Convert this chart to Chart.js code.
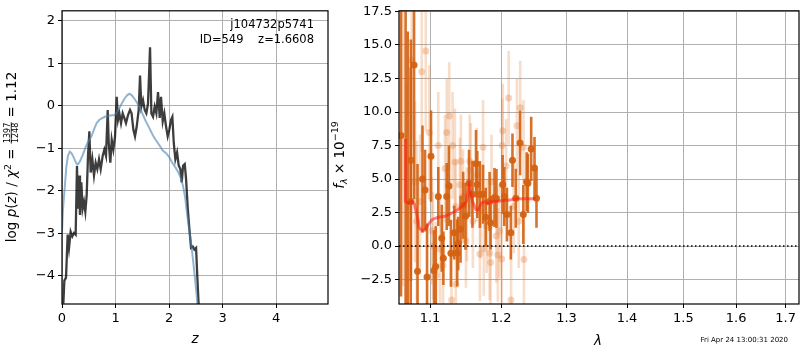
<!DOCTYPE html>
<html>
<head>
<meta charset="utf-8">
<script src="https://cdn.jsdelivr.net/npm/chart.js@4"></script>
<style>
body { margin: 0; background: #fff; }
#wrap { position: relative; width: 800px; height: 350px; overflow: hidden; }
#left { position: absolute; left: 0; top: 0; }
#right { position: absolute; left: 330px; top: 0; }
</style>
</head>
<body>
<div id="wrap">
<canvas id="left" width="330" height="350"></canvas>
<canvas id="right" width="470" height="350"></canvas>
</div>
<script>
// ---- left panel: log p(z) ----
var zBlue = [0,0.02,0.05,0.08,0.11,0.145,0.18,0.22,0.27,0.30,0.33,0.38,0.45,0.50,0.55,0.60,0.65,0.70,0.75,0.80,0.90,0.98,1.03,1.07,1.12,1.17,1.22,1.26,1.30,1.35,1.41,1.46,1.50,1.56,1.63,1.70,1.75,1.82,1.88,1.95,2.00,2.06,2.12,2.18,2.22,2.26,2.30,2.34,2.38,2.42,2.47,2.52,2.56];
var logpBlue = [-2.95,-2.4,-1.95,-1.45,-1.18,-1.08,-1.12,-1.22,-1.36,-1.37,-1.32,-1.18,-0.95,-0.82,-0.72,-0.55,-0.40,-0.33,-0.29,-0.26,-0.23,-0.22,-0.15,-0.06,0.06,0.17,0.25,0.28,0.25,0.17,0.05,-0.06,-0.18,-0.35,-0.52,-0.70,-0.80,-0.93,-1.05,-1.12,-1.20,-1.34,-1.45,-1.58,-1.70,-1.88,-2.15,-2.57,-2.95,-3.30,-3.88,-4.50,-5.20];

var zDark = [0.025,0.044,0.075,0.106,0.131,0.162,0.193,0.224,0.255,0.28,0.299,0.318,0.336,0.361,0.386,0.411,0.436,0.461,0.486,0.511,0.536,0.567,0.598,0.629,0.66,0.692,0.723,0.76,0.791,0.822,0.854,0.873,0.903,0.929,0.959,0.991,1.022,1.047,1.072,1.103,1.134,1.165,1.196,1.234,1.271,1.30,1.333,1.364,1.396,1.433,1.458,1.483,1.514,1.545,1.576,1.607,1.645,1.67,1.701,1.732,1.763,1.794,1.826,1.85,1.882,1.912,1.944,1.975,2.006,2.037,2.062,2.088,2.118,2.15,2.181,2.211,2.237,2.262,2.293,2.318,2.35,2.379,2.411,2.443,2.473,2.505,2.529,2.555,2.6];
var logpDark = [-4.65,-4.11,-4.04,-3.03,-3.34,-2.96,-3.07,-2.99,-3.03,-1.41,-2.42,-1.64,-2.57,-1.80,-2.42,-2.26,-2.49,-2.11,-1.18,-0.60,-1.57,-1.26,-1.64,-1.34,-1.49,-1.26,-1.49,-1.18,-1.03,-1.18,-0.10,-0.87,-1.34,-0.80,-1.03,-0.72,0.21,-0.33,-0.18,-0.41,-0.18,-0.29,-0.41,-0.22,-0.10,-0.18,-0.56,-0.72,-0.49,-0.10,0.71,-0.02,0.13,-0.10,-0.18,0.05,1.37,-0.18,-0.26,-0.02,-0.18,0.32,-0.29,0.21,-0.37,-0.18,-0.49,-0.72,-0.56,-0.33,-0.26,-0.87,-1.26,-1.10,-1.41,-1.49,-1.80,-1.41,-1.37,-1.72,-2.42,-2.88,-3.34,-3.31,-3.38,-3.34,-4.04,-4.73,-5.6];

var zTicks = [0, 1, 2, 3, 4];
var logpTicks = [-4, -3, -2, -1, 0, 1, 2];

// ---- right panel: spectrum ----
var lamDark = [1.0616,1.0676,1.0704,1.0743,1.0746,1.0787,1.0833,1.0899,1.0933,1.096,1.1013,1.1054,1.1077,1.1112,1.1159,1.1181,1.1227,1.1258,1.1285,1.1331,1.1372,1.1386,1.1419,1.1455,1.1488,1.1538,1.1586,1.1637,1.1655,1.1692,1.1738,1.1776,1.1832,1.1846,1.1903,1.1932,1.2022,1.2047,1.2086,1.2144,1.2168,1.2218,1.2281,1.2331,1.2381,1.2400,1.2450,1.2501,1.2531];
var fluxDark = [8.24,20.0,-6.0,3.33,6.40,13.5,-1.87,5.0,4.19,-2.31,6.71,-1.82,-1.52,3.70,0.59,-0.91,3.70,4.49,-0.54,1.0,-0.51,0.19,1.25,3.04,2.23,4.68,3.87,6.15,4.60,3.85,3.87,2.15,3.33,1.74,3.63,3.55,4.60,3.70,2.35,1.0,6.40,3.57,7.69,2.35,4.80,4.68,7.25,5.83,3.57];
var errDark = [12,25,22,10,9,10,8,4,3,4,3.4,3,3,2.2,2.5,2,2.5,3,2.5,2,2.5,2,2.5,2.5,2.5,2.5,2.5,2.5,2.5,2.5,2.2,2.2,2.2,2,2.2,2.2,2.2,2.2,2,2,2,2.2,2.4,2.2,2.2,2.2,2.4,2.3,2.2];

var lamLight = [1.0640,1.0690,1.0756,1.0800,1.0822,1.0866,1.0889,1.0943,1.0991,1.1027,1.1040,1.1081,1.1112,1.1135,1.1176,1.1203,1.1227,1.1262,1.1294,1.1308,1.1340,1.1350,1.1353,1.1409,1.1423,1.1452,1.1494,1.1507,1.1548,1.1563,1.1592,1.1647,1.1692,1.1700,1.1738,1.1748,1.1790,1.1832,1.1846,1.1860,1.1929,1.1952,1.1976,1.2010,1.2015,1.2024,1.2074,1.2112,1.2147,1.2186,1.2235,1.2262,1.2284,1.2333,1.2340];
var fluxLight = [22,-8,13.87,4.8,1.86,3.33,13.0,14.56,8.48,1.13,0.02,-2.18,7.5,-0.22,-1.45,5.78,8.48,9.71,-4.02,7.5,6.27,2.96,-2.85,4.58,6.32,3.7,0.39,2.37,6.32,5.66,1.86,5.32,-0.59,2.6,7.38,-0.2,1.5,-0.54,-1.23,4.8,0.76,-0.66,1.13,-0.96,7.5,8.6,5.98,11.05,-4.02,2.96,8.97,1.86,10.32,7.38,-1.0];
var errLight = [25,20,6,6,6,5,6,6,5,4,4,4,4,4,4,4,4,4,4,4,4,3.5,4,3.5,3.5,3.5,3.5,3.5,3.5,3.5,3.5,3.5,3.5,3.5,3.5,3.5,3.5,3.5,3.5,3.5,3.5,3.5,3.5,3.5,3.5,3.5,3.5,3.5,3.5,3.5,3.5,3.5,3.5,3.5,3.5];

var lamModel = [1.0672,1.0673,1.0712,1.0756,1.0791,1.0822,1.0853,1.0889,1.0933,1.0977,1.1031,1.1112,1.1203,1.1294,1.1386,1.1455,1.1502,1.1538,1.1586,1.1637,1.167,1.1716,1.1763,1.18,1.1855,1.1929,1.2022,1.2119,1.2218,1.2316,1.2417,1.2515];
var fluxModel = [7.99,3.33,3.2,3.33,3.13,2.35,1.37,1.18,1.18,1.62,1.99,2.15,2.23,2.45,2.72,3.04,3.33,4.5,3.33,2.72,2.72,3.2,3.33,3.16,3.33,3.33,3.4,3.43,3.53,3.53,3.53,3.53];

var lamTicks = [1.1, 1.2, 1.3, 1.4, 1.5, 1.6, 1.7];
var fluxTicks = [-2.5, 0, 2.5, 5, 7.5, 10, 12.5, 15, 17.5];

var FONT = 'DejaVu Sans';
Chart.defaults.font.family = FONT;
Chart.defaults.font.size = 13;
Chart.defaults.color = '#000';

function pts(xs, ys) {
    return xs.map(function (x, i) { return { x: x, y: ys[i] }; });
}
function minus(s) { return String(s).replace('-', '\u2212'); }

function axisGrid() {
    return { color: '#b0b0b0', lineWidth: 1, drawTicks: true, tickLength: 4, tickColor: '#000', tickWidth: 1 };
}

// black box around plot area, like matplotlib spines
var framePlugin = {
    id: 'frame',
    afterDraw: function (chart) {
        var a = chart.chartArea, ctx = chart.ctx;
        ctx.save();
        ctx.strokeStyle = '#000';
        ctx.lineWidth = 1.2;
        ctx.strokeRect(a.left, a.top, a.right - a.left, a.bottom - a.top);
        ctx.restore();
    }
};

// vertical error bars drawn under each dataset's markers
var errorBarPlugin = {
    id: 'errorBars',
    beforeDatasetDraw: function (chart, args) {
        var ds = chart.data.datasets[args.index];
        if (!ds.errors) return;
        var ctx = chart.ctx, a = chart.chartArea;
        var xs = chart.scales.x, ys = chart.scales.y;
        ctx.save();
        ctx.beginPath();
        ctx.rect(a.left, a.top, a.right - a.left, a.bottom - a.top);
        ctx.clip();
        ctx.strokeStyle = ds.errColor;
        ctx.lineWidth = ds.errWidth;
        ds.data.forEach(function (p, i) {
            var px = xs.getPixelForValue(p.x);
            ctx.beginPath();
            ctx.moveTo(px, ys.getPixelForValue(p.y - ds.errors[i]));
            ctx.lineTo(px, ys.getPixelForValue(p.y + ds.errors[i]));
            ctx.stroke();
        });
        ctx.restore();
    }
};

// rotated label built from pieces (for math-like text)
function drawRich(ctx, cx, cy, parts) {
    var total = 0;
    parts.forEach(function (p) {
        ctx.font = p.f;
        if (p.frac) {
            p.w = Math.max(ctx.measureText(p.frac[0]).width, ctx.measureText(p.frac[1]).width) + 2;
        } else {
            p.w = ctx.measureText(p.t).width;
        }
        total += p.w;
    });
    ctx.save();
    ctx.translate(cx, cy);
    ctx.rotate(-Math.PI / 2);
    ctx.fillStyle = '#000';
    ctx.textBaseline = 'alphabetic';
    var u = -total / 2;
    parts.forEach(function (p) {
        ctx.font = p.f;
        if (p.frac) {
            ctx.textAlign = 'center';
            ctx.fillText(p.frac[0], u + p.w / 2, -6.5);
            ctx.fillText(p.frac[1], u + p.w / 2, 1.5);
            ctx.fillRect(u + 0.5, -5.2, p.w - 1, 0.8);
            ctx.textAlign = 'left';
        } else {
            ctx.textAlign = 'left';
            ctx.fillText(p.t, u, p.dy || 0);
        }
        u += p.w;
    });
    ctx.restore();
}

var pzText = {
    id: 'pzText',
    afterDraw: function (chart) {
        var ctx = chart.ctx;
        ctx.save();
        ctx.fillStyle = '#000';
        ctx.textAlign = 'right';
        ctx.font = '11.5px ' + FONT;
        ctx.fillText('j104732p5741', 314, 28);
        ctx.fillText('ID=549    z=1.6608', 314, 43);
        ctx.textAlign = 'center';
        ctx.font = 'italic 13.5px ' + FONT;
        ctx.fillText('z', 195, 343);
        ctx.restore();
        var n = '13.5px ' + FONT, it = 'italic 13.5px ' + FONT, sm = '9.5px ' + FONT, fr = '8px ' + FONT;
        drawRich(ctx, 16, 157, [
            { t: 'log ', f: n }, { t: 'p', f: it }, { t: '(', f: n }, { t: 'z', f: it }, { t: ')', f: n },
            { t: ' / ', f: n }, { t: '\u03c7', f: it }, { t: '2', f: sm, dy: -5.5 }, { t: ' = ', f: n },
            { frac: ['1397', '1248'], f: fr }, { t: ' = 1.12', f: n }
        ]);
    }
};

var specText = {
    id: 'specText',
    afterDatasetsDraw: function (chart) {
        // dotted zero level
        var ctx = chart.ctx, a = chart.chartArea;
        var y0 = chart.scales.y.getPixelForValue(0);
        ctx.save();
        ctx.strokeStyle = '#000';
        ctx.lineWidth = 1.5;
        ctx.setLineDash([1.5, 2.5]);
        ctx.beginPath();
        ctx.moveTo(a.left, y0);
        ctx.lineTo(a.right, y0);
        ctx.stroke();
        ctx.restore();
    },
    afterDraw: function (chart) {
        var ctx = chart.ctx;
        ctx.save();
        ctx.fillStyle = '#000';
        ctx.textAlign = 'center';
        ctx.font = 'italic 13.5px ' + FONT;
        ctx.fillText('\u03bb', 268, 345);
        ctx.textAlign = 'right';
        ctx.font = '7px ' + FONT;
        ctx.fillText('Fri Apr 24 13:00:31 2020', 458, 342);
        ctx.restore();
        var n = '13.5px ' + FONT, it = 'italic 13.5px ' + FONT, sm = '9.5px ' + FONT, smi = 'italic 9.5px ' + FONT;
        drawRich(ctx, 14, 155, [
            { t: 'f', f: it }, { t: '\u03bb', f: smi, dy: 3 }, { t: ' \u00d7 10', f: n }, { t: '\u221219', f: sm, dy: -6 }
        ]);
    }
};

var pzChart = new Chart(document.getElementById('left'), {
    type: 'line',
    data: {
        datasets: [
            { data: pts(zBlue, logpBlue), borderColor: 'rgba(70,130,180,0.6)', borderWidth: 2, pointRadius: 0, order: 0 },
            { data: pts(zDark, logpDark), borderColor: 'rgba(0,0,0,0.76)', borderWidth: 2.3, pointRadius: 0, order: 1 }
        ]
    },
    options: {
        responsive: false,
        animation: false,
        devicePixelRatio: 1,
        layout: { autoPadding: false, padding: { top: 6, right: 2, left: 0, bottom: 0 } },
        plugins: { legend: { display: false }, tooltip: { enabled: false } },
        scales: {
            x: {
                type: 'linear', min: 0, max: 4.97,
                afterBuildTicks: function (s) { s.ticks = zTicks.map(function (v) { return { value: v }; }); },
                afterFit: function (s) { s.height = 46; },
                grid: axisGrid(), border: { display: false },
                ticks: { padding: 3, maxRotation: 0, callback: function (v) { return minus(v); } }
            },
            y: {
                type: 'linear', min: -4.66, max: 2.23,
                afterBuildTicks: function (s) { s.ticks = logpTicks.map(function (v) { return { value: v }; }); },
                afterFit: function (s) { s.width = 62; },
                grid: axisGrid(), border: { display: false },
                ticks: { padding: 3, callback: function (v) { return minus(v); } }
            }
        }
    },
    plugins: [framePlugin, pzText]
});

var specChart = new Chart(document.getElementById('right'), {
    type: 'scatter',
    data: {
        datasets: [
            { type: 'line', data: pts(lamModel, fluxModel), borderColor: 'rgba(255,25,20,0.55)', borderWidth: 3, pointRadius: 0, order: 0 },
            { data: pts(lamDark, fluxDark), errors: errDark, errColor: 'rgba(212,98,18,0.9)', errWidth: 2.6,
              backgroundColor: 'rgba(212,98,18,0.95)', borderWidth: 0, pointRadius: 3.5, order: 1 },
            { data: pts(lamLight, fluxLight), errors: errLight, errColor: 'rgba(225,120,45,0.25)', errWidth: 2.6,
              backgroundColor: 'rgba(225,120,45,0.3)', borderWidth: 0, pointRadius: 3.5, order: 2 }
        ]
    },
    options: {
        responsive: false,
        animation: false,
        devicePixelRatio: 1,
        layout: { autoPadding: false, padding: { top: 6, right: 1, left: 0, bottom: 0 } },
        plugins: { legend: { display: false }, tooltip: { enabled: false } },
        scales: {
            x: {
                type: 'logarithmic', min: 1.059, max: 1.728,
                afterBuildTicks: function (s) { s.ticks = lamTicks.map(function (v) { return { value: v }; }); },
                afterFit: function (s) { s.height = 46; },
                grid: axisGrid(), border: { display: false },
                ticks: { padding: 3, maxRotation: 0, callback: function (v) { return Number(v).toFixed(1); } }
            },
            y: {
                type: 'linear', min: -4.32, max: 17.55,
                afterBuildTicks: function (s) { s.ticks = fluxTicks.map(function (v) { return { value: v }; }); },
                afterFit: function (s) { s.width = 69; },
                grid: axisGrid(), border: { display: false },
                ticks: { padding: 3, callback: function (v) { return minus(Number(v).toFixed(1)); } }
            }
        }
    },
    plugins: [errorBarPlugin, framePlugin, specText]
});
</script>
</body>
</html>
